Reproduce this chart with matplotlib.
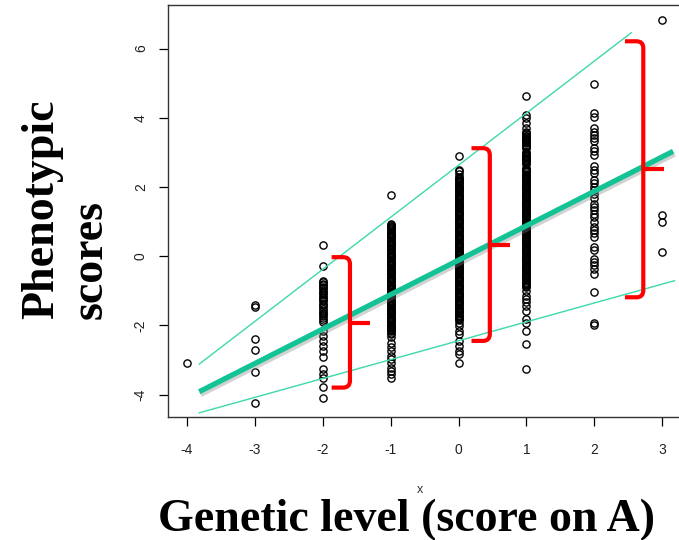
import matplotlib
matplotlib.use('Agg')
import matplotlib.pyplot as plt
import matplotlib.patheffects as pe
from matplotlib.path import Path
from matplotlib.patches import PathPatch

# genetic level (score on A) and the phenotypic scores observed at each level
levels = [-4, -3, -2, -1, 0, 1, 2, 3]

scores_m4 = [-3.09]
scores_m3 = [-1.40, -1.46, -2.41, -2.71, -3.34, -4.25]
scores_m2 = [0.31, -0.29, -0.72, -0.76, -0.80, -0.84, -0.89, -0.93, -0.98, -1.03,
             -1.08, -1.12, -1.17, -1.22, -1.27, -1.31, -1.37, -1.42, -1.47, -1.52,
             -1.58, -1.63, -1.68, -1.74, -1.79, -1.85, -1.91, -2.16, -2.30, -2.45,
             -2.59, -2.74, -2.93, -3.27, -3.41, -3.51, -3.77, -4.11]
scores_m1 = [1.78, 0.94, 0.91, 0.88, 0.84, 0.81, 0.78, 0.75, 0.71, 0.68, 0.64,
             0.61, 0.58, 0.55, 0.51, 0.47, 0.44, 0.41, 0.37, 0.34, 0.31, 0.28,
             0.24, 0.21, 0.17, 0.13, 0.10, 0.07, 0.03, 0.00, -0.03, -0.06, -0.10,
             -0.13, -0.16, -0.19, -0.23, -0.26, -0.29, -0.33, -0.36, -0.39, -0.42,
             -0.46, -0.49, -0.52, -0.56, -0.59, -0.62, -0.66, -0.69, -0.72, -0.76,
             -0.80, -0.83, -0.86, -0.89, -0.93, -0.96, -0.99, -1.03, -1.06, -1.09,
             -1.12, -1.16, -1.19, -1.22, -1.26, -1.29, -1.32, -1.36, -1.39, -1.42,
             -1.45, -1.49, -1.52, -1.55, -1.58, -1.62, -1.65, -1.68, -1.71, -1.75,
             -1.78, -1.81, -1.85, -1.88, -1.91, -1.95, -1.98, -2.01, -2.04, -2.08,
             -2.11, -2.14, -2.17, -2.21, -2.24, -2.35, -2.50, -2.64, -2.74, -2.88,
             -2.98, -3.08, -3.22, -3.32, -3.41, -3.51]
scores_0 = [2.90, 2.49, 2.45, 2.36, 2.30, 2.26, 2.23, 2.20, 2.17, 2.13, 2.10, 2.07,
            2.04, 2.00, 1.97, 1.94, 1.90, 1.87, 1.84, 1.81, 1.77, 1.74, 1.71, 1.67,
            1.64, 1.61, 1.57, 1.54, 1.51, 1.48, 1.44, 1.41, 1.38, 1.35, 1.31, 1.28,
            1.25, 1.21, 1.18, 1.15, 1.11, 1.08, 1.05, 1.02, 0.98, 0.95, 0.92, 0.88,
            0.85, 0.82, 0.78, 0.75, 0.72, 0.69, 0.65, 0.62, 0.59, 0.55, 0.52, 0.49,
            0.46, 0.42, 0.39, 0.36, 0.32, 0.29, 0.26, 0.23, 0.19, 0.16, 0.13, 0.09,
            0.06, 0.03, -0.01, -0.04, -0.07, -0.11, -0.14, -0.17, -0.20, -0.24,
            -0.27, -0.30, -0.34, -0.37, -0.40, -0.43, -0.47, -0.50, -0.53, -0.57,
            -0.60, -0.63, -0.67, -0.70, -0.73, -0.76, -0.80, -0.83, -0.86, -0.90,
            -0.93, -0.96, -0.99, -1.03, -1.06, -1.09, -1.13, -1.16, -1.19, -1.22,
            -1.26, -1.29, -1.32, -1.36, -1.39, -1.42, -1.46, -1.49, -1.52, -1.55,
            -1.59, -1.62, -1.65, -1.69, -1.72, -1.75, -1.78, -1.82, -1.85, -1.92,
            -2.01, -2.16, -2.25, -2.45, -2.59, -2.74, -2.83, -3.08]
scores_1 = [4.64, 4.08, 3.99, 3.84, 3.70, 3.58, 3.55, 3.52, 3.48, 3.45, 3.42, 3.39,
            3.35, 3.32, 3.29, 3.26, 3.22, 3.19, 3.16, 3.13, 3.00, 2.97, 2.93, 2.90,
            2.87, 2.83, 2.80, 2.77, 2.74, 2.70, 2.67, 2.55, 2.51, 2.48, 2.45, 2.42,
            2.38, 2.35, 2.32, 2.29, 2.25, 2.22, 2.19, 2.16, 2.12, 2.09, 2.06, 2.03,
            1.99, 1.96, 1.93, 1.90, 1.86, 1.83, 1.80, 1.77, 1.73, 1.70, 1.67, 1.64,
            1.60, 1.57, 1.54, 1.51, 1.47, 1.44, 1.41, 1.38, 1.34, 1.31, 1.28, 1.25,
            1.21, 1.18, 1.15, 1.12, 1.08, 1.05, 1.02, 0.99, 0.95, 0.92, 0.89, 0.86,
            0.82, 0.79, 0.76, 0.73, 0.69, 0.66, 0.63, 0.60, 0.56, 0.53, 0.50, 0.47,
            0.43, 0.40, 0.37, 0.34, 0.30, 0.27, 0.24, 0.21, 0.17, 0.14, 0.11, 0.08,
            0.04, 0.01, -0.02, -0.05, -0.09, -0.12, -0.15, -0.18, -0.22, -0.25,
            -0.28, -0.31, -0.35, -0.38, -0.41, -0.44, -0.48, -0.51, -0.54, -0.57,
            -0.61, -0.64, -0.67, -0.70, -0.74, -0.77, -0.80, -0.83, -0.87, -0.90,
            -1.00, -1.14, -1.24, -1.34, -1.43, -1.58, -1.82, -1.92, -2.16, -2.54,
            -3.27]
scores_2 = [4.98, 4.13, 4.03, 3.70, 3.60, 3.51, 3.41, 3.32, 3.12, 3.03, 2.93, 2.60,
            2.49, 2.39, 2.20, 2.10, 2.01, 1.91, 1.81, 1.67, 1.52, 1.43, 1.33, 1.23,
            1.13, 0.99, 0.84, 0.75, 0.66, 0.55, 0.26, 0.17, -0.08, -0.17, -0.26,
            -0.37, -0.51, -1.04, -1.92, -1.99]
scores_3 = [6.82, 1.18, 0.99, 0.12]

all_scores = [scores_m4, scores_m3, scores_m2, scores_m1,
              scores_0, scores_1, scores_2, scores_3]

# regression line and the upper / lower envelope lines (end points)
fit_x = [-3.82, 3.16]
fit_y = [-3.92, 3.03]
upper_x = [-3.82, 2.545]
upper_y = [-3.12, 6.46]
lower_x = [-3.82, 3.18]
lower_y = [-4.53, -0.71]

# red braces: vertical position, bottom, top, tip level
brace_x = [-1.60, 0.46, 2.72]
brace_lo = [-3.80, -2.45, -1.19]
brace_hi = [-0.03, 3.12, 6.21]
brace_mid = [-1.92, 0.33, 2.51]

TEAL = '#14c395'
TEAL_THIN = '#3dd8ad'


def draw_brace(ax, xv, lo, hi, mid, arm=0.27, tip=0.30, rx=0.10, ry=0.20):
    verts = [(xv - arm, hi), (xv - rx, hi), (xv, hi), (xv, hi - ry),
             (xv, lo + ry), (xv, lo), (xv - rx, lo), (xv - arm, lo)]
    codes = [Path.MOVETO, Path.LINETO, Path.CURVE3, Path.CURVE3,
             Path.LINETO, Path.CURVE3, Path.CURVE3, Path.LINETO]
    ax.add_patch(PathPatch(Path(verts, codes), fill=False, ec='red', lw=3.0,
                           capstyle='butt', joinstyle='round', zorder=4))
    ax.plot([xv, xv + tip], [mid, mid], color='red', lw=3.0,
            solid_capstyle='butt', zorder=4)


fig = plt.figure(figsize=(6.79, 5.40), dpi=100)
ax = fig.add_axes([0.2474, 0.2278, 0.756, 0.763])

for lvl, vals in zip(levels, all_scores):
    ax.plot([lvl] * len(vals), vals, 'o', mfc='none', mec='black',
            ms=5.2, mew=1.0, zorder=2)

ax.plot(upper_x, upper_y, color=TEAL_THIN, lw=1.0, zorder=3)
ax.plot(lower_x, lower_y, color=TEAL_THIN, lw=1.0, zorder=3)
ax.plot(fit_x, fit_y, color=TEAL, lw=3.8, solid_capstyle='butt', zorder=3,
        path_effects=[pe.SimpleLineShadow(offset=(1, -2), shadow_color='gray',
                                          alpha=0.35, rho=0.8),
                      pe.Normal()])

for xv, lo, hi, mid in zip(brace_x, brace_lo, brace_hi, brace_mid):
    draw_brace(ax, xv, lo, hi, mid)

ax.set_xlim(-4.28, 3.28)
ax.set_ylim(-4.65, 7.26)
ax.set_xticks(levels)
ax.set_yticks([-4, -2, 0, 2, 4, 6])
tick_font = dict(family='Liberation Sans', size=10)
ax.set_xticklabels([str(v) for v in levels], fontdict=tick_font, color='#222222')
ax.set_yticklabels(['-4', '-2', '0', '2', '4', '6'], fontdict=tick_font,
                   color='#222222', rotation=90, va='center')
ax.tick_params(axis='x', direction='out', length=6.5, width=0.9, pad=12)
ax.tick_params(axis='y', direction='out', length=6.5, width=0.9, pad=8)
for sp in ax.spines.values():
    sp.set_linewidth(1.0)
    sp.set_color('#333333')

fig.text(66 / 679, 1 - 209 / 540, 'Phenotypic\nscores', rotation=90,
         ha='center', va='center', multialignment='left',
         family='Liberation Serif', weight='bold', size=33)
fig.text(407 / 679, 1 - 531 / 540, 'Genetic level (score on A)',
         ha='center', va='baseline', family='Liberation Serif',
         weight='bold', size=33)
fig.text(420 / 679, 1 - 490 / 540, 'x', ha='center', va='center',
         family='Liberation Sans', size=9, color='#333333')

fig.savefig('out.png', dpi=100)
